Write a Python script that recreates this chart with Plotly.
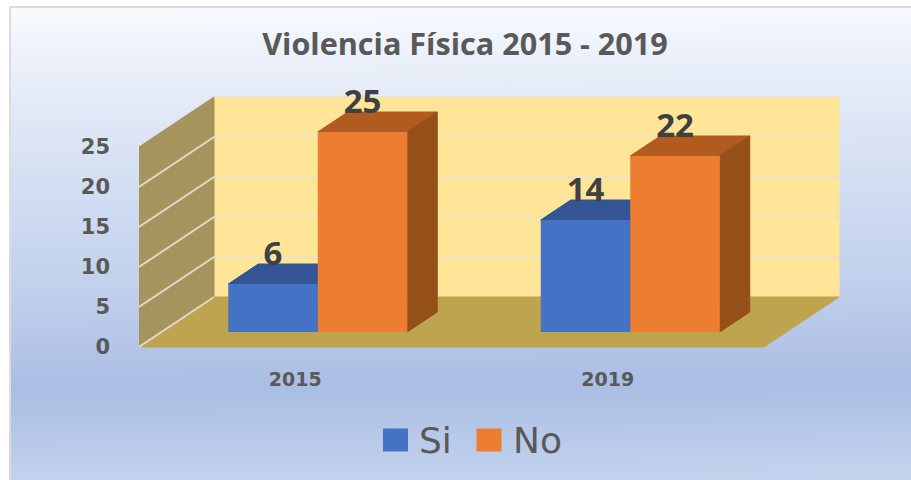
import base64
import plotly.graph_objects as go

categories = ["2015", "2019"]
si_values = [6, 14]
no_values = [25, 22]
value_ticks = [0, 5, 10, 15, 20, 25]
chart_title = "Violencia Física 2015 - 2019"

W, H = 911, 480
L, R, T, B = 139, 841, 90, 352     # plot area in page pixels
PX_CAT, PX_VAL = 312.5, 8.0        # pixels per category / per value
X0 = 139 + PX_CAT / 2              # pixel of category 0
Y0 = 347                           # pixel of value 0
DX, DY = 75 / PX_CAT, 50 / PX_VAL  # full depth of the 3D box in axis units
XMIN, XMAX = -0.5, 1.5
BAR_W = 89.5 / PX_CAT
D_FRONT, D_BACK = 0.3, 0.7

C_BLUE, C_BLUE_TOP, C_BLUE_SIDE = "#4472c4", "#335593", "#2f5290"
C_OR, C_OR_TOP, C_OR_SIDE = "#ed7d31", "#b25b20", "#955019"
TXT = "#595959"
FONT = "Open Sans"
FONT_WIDE = "DejaVu Sans"


def proj(x, v, d):
    return x + d * DX, v + d * DY


def poly(points, color, line=None):
    xs, ys = zip(*(proj(*p) for p in points + points[:1]))
    return go.Scatter(x=xs, y=ys, mode="lines", fill="toself", fillcolor=color,
                      line=dict(color=line or color, width=1), hoverinfo="skip",
                      showlegend=False)


def polyline(points, color, width=2):
    xs, ys = zip(*(proj(*p) for p in points))
    return go.Scatter(x=xs, y=ys, mode="lines", line=dict(color=color, width=width),
                      hoverinfo="skip", showlegend=False)


fig = go.Figure()
top = max(value_ticks)

# walls and floor
fig.add_trace(poly([(XMIN, 0, 1), (XMAX, 0, 1), (XMAX, top, 1), (XMIN, top, 1)], "#ffe597"))
fig.add_trace(poly([(XMIN, 0, 0), (XMIN, 0, 1), (XMIN, top, 1), (XMIN, top, 0)], "#a6945f"))
fig.add_trace(poly([(XMIN, 0, 0), (XMAX, 0, 0), (XMAX, 0, 1), (XMIN, 0, 1)], "#bfa44f"))
for v in value_ticks:
    if v:
        fig.add_trace(polyline([(XMIN, v, 1), (XMAX, v, 1)], "#ebe2bf"))
    if v != top:
        fig.add_trace(polyline([(XMIN, v, 0), (XMIN, v, 1)], "#ded9c8"))

# depth faces of the bars, computed from the values
sx = D_FRONT * DX
base = D_FRONT * DY
for i in range(len(categories)):
    for k, (vals, ctop, cside) in enumerate([(si_values, C_BLUE_TOP, C_BLUE_SIDE),
                                             (no_values, C_OR_TOP, C_OR_SIDE)]):
        x0 = i + (k - 1) * BAR_W
        x1 = x0 + BAR_W
        v = vals[i]
        fig.add_trace(poly([(x0, v, D_FRONT), (x1, v, D_FRONT), (x1, v, D_BACK), (x0, v, D_BACK)], ctop))
        fig.add_trace(poly([(x1, 0, D_FRONT), (x1, 0, D_BACK), (x1, v, D_BACK), (x1, v, D_FRONT)], cside))

# front faces on an overlaying axis pair, so they sit above the depth faces
xs_si = [i + sx - BAR_W / 2 for i in range(len(categories))]
xs_no = [i + sx + BAR_W / 2 for i in range(len(categories))]
fig.add_trace(go.Bar(x=xs_si, y=si_values, base=base, width=BAR_W, name="Si",
                     marker=dict(color=C_BLUE, line=dict(width=0)),
                     xaxis="x2", yaxis="y2", showlegend=False))
fig.add_trace(go.Bar(x=xs_no, y=no_values, base=base, width=BAR_W, name="No",
                     marker=dict(color=C_OR, line=dict(width=0)),
                     xaxis="x2", yaxis="y2", showlegend=False))

# data labels
LABEL_UP = 27 / PX_VAL
fig.add_trace(go.Scatter(x=xs_si + xs_no,
                         y=[v + base + LABEL_UP for v in si_values + no_values],
                         text=[str(v) for v in si_values + no_values],
                         mode="text", textposition="middle center", cliponaxis=False,
                         textfont=dict(family=FONT, size=33, color="#404040", weight=700),
                         xaxis="x2", yaxis="y2", hoverinfo="skip", showlegend=False))

yrange = [(Y0 - B) / PX_VAL, (Y0 - T) / PX_VAL]
xrange_ = [(L - X0) / PX_CAT, (R - X0) / PX_CAT]


def px(x):
    return (x - L) / (R - L)


def py(y):
    return (B - y) / (B - T)


svg = ('<svg xmlns="http://www.w3.org/2000/svg" width="901" height="473" preserveAspectRatio="none">'
       '<defs><linearGradient id="g" x1="0.49" y1="0" x2="0.51" y2="1">'
       '<stop offset="0" stop-color="#f8fafe"/>'
       '<stop offset="0.12" stop-color="#eaeff9"/>'
       '<stop offset="0.4" stop-color="#d0dcf1"/>'
       '<stop offset="0.6" stop-color="#c0cfeb"/>'
       '<stop offset="0.8" stop-color="#aabde3"/>'
       '<stop offset="1" stop-color="#c3d3ee"/>'
       '</linearGradient></defs><rect width="901" height="473" fill="url(#g)"/></svg>')
src = "data:image/svg+xml;base64," + base64.b64encode(svg.encode()).decode()

shapes = [dict(type="rect", xref="paper", yref="paper", x0=px(10), x1=px(915), y0=py(7), y1=py(485),
               line=dict(color="#dcdcdc", width=2), fillcolor="rgba(0,0,0,0)", layer="below")]
annotations = []
for name, color, sq_x, text_x in [("Si", C_BLUE, 383, 417), ("No", C_OR, 476.5, 511)]:
    shapes.append(dict(type="rect", xref="paper", yref="paper", x0=px(sq_x), x1=px(sq_x + 25),
                       y0=py(428.5), y1=py(451.5), fillcolor=color, line=dict(width=0)))
    annotations.append(dict(xref="paper", yref="paper", x=px(text_x), y=py(440), text=name,
                            xanchor="left", yanchor="middle", showarrow=False,
                            font=dict(family=FONT_WIDE, size=36, color=TXT)))

fig.update_layout(
    width=W, height=H, margin=dict(l=L, r=W - R, t=T, b=H - B, pad=0),
    paper_bgcolor="white", plot_bgcolor="rgba(0,0,0,0)",
    barmode="overlay", showlegend=False,
    title=dict(text=chart_title, x=465 / W, xanchor="center", y=1 - 44 / H, yanchor="middle",
               font=dict(family=FONT, size=30.6, color=TXT, weight=700)),
    xaxis=dict(range=xrange_, tickmode="array", tickvals=list(range(len(categories))),
               ticktext=categories, showgrid=False, zeroline=False, showline=False, ticks="",
               ticklabelstandoff=14, tickfont=dict(family=FONT_WIDE, size=19, color=TXT, weight=700)),
    yaxis=dict(range=yrange, tickmode="array", tickvals=value_ticks, showgrid=False,
               zeroline=False, showline=False, ticks="", ticklabelstandoff=28,
               tickfont=dict(family=FONT_WIDE, size=21, color=TXT, weight=700)),
    xaxis2=dict(range=xrange_, overlaying="x", visible=False),
    yaxis2=dict(range=yrange, overlaying="y", visible=False),
    images=[dict(source=src, xref="paper", yref="paper", x=px(10), y=py(7),
                 sizex=901 / (R - L), sizey=473 / (B - T), sizing="stretch",
                 xanchor="left", yanchor="top", layer="below")],
    shapes=shapes, annotations=annotations,
)

fig.write_html("out.html", config=dict(displayModeBar=False),
               post_script="document.body.style.margin='0';")
